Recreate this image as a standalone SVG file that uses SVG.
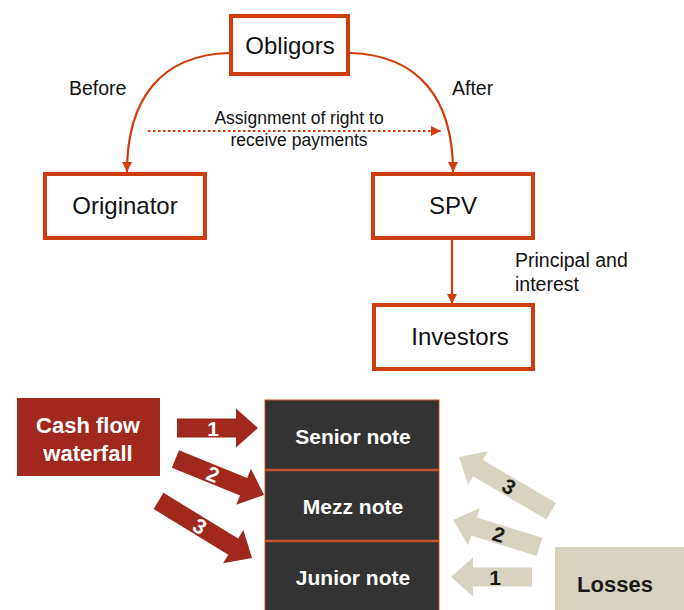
<svg xmlns="http://www.w3.org/2000/svg" width="684" height="610" viewBox="0 0 684 610">
<defs>
<style>
.box{fill:#fff;stroke:#cf3d0c;stroke-width:4}
.lbl{font-family:"Liberation Sans",Arial,sans-serif;fill:#111}
.big{font-size:24px;text-anchor:middle}
.mid{font-size:19.5px}
.sm{font-size:17.5px;text-anchor:middle}
.conn{fill:none;stroke:#cf3d0c;stroke-width:2.2}
.bold{font-family:"Liberation Sans",Arial,sans-serif;font-weight:bold;text-anchor:middle}
.red{fill:#a0281d}
.beige{fill:#d8d3c1}
.wn{fill:#fff;font-size:21px}
.bn{fill:#1a1a1a;font-size:21px}
</style>
<marker id="ah" viewBox="0 0 10 10" refX="10" refY="5" markerWidth="10" markerHeight="10" markerUnits="userSpaceOnUse" orient="auto">
<path d="M0,0 L10,5 L0,10 z" fill="#cf3d0c"/>
</marker>
</defs>
<rect width="684" height="610" fill="#fff"/>

<g id="connectors">
<path class="conn" d="M229,53 C160,55 127,100 127,172" marker-end="url(#ah)"/>
<path class="conn" d="M350,53 C420,55 453,100 453,172" marker-end="url(#ah)"/>
<path class="conn" d="M148,131 L441,131" stroke-width="3" stroke-dasharray="2.5,2.5" marker-end="url(#ah)"/>
<path class="conn" d="M452,240 L452,304" marker-end="url(#ah)"/>
</g>

<g id="labels">
<text class="lbl mid" x="69" y="95">Before</text>
<text class="lbl mid" x="452" y="95">After</text>
<text class="lbl sm" x="299" y="124">Assignment of right to</text>
<text class="lbl sm" x="299" y="146">receive payments</text>
<text class="lbl mid" x="515" y="267">Principal and</text>
<text class="lbl mid" x="515" y="291">interest</text>
</g>

<g id="obligors">
<rect class="box" x="231" y="16" width="117" height="58"/>
<text class="lbl big" x="290" y="54">Obligors</text>
</g>
<g id="originator">
<rect class="box" x="45" y="174" width="160" height="64"/>
<text class="lbl big" x="125" y="214">Originator</text>
</g>
<g id="spv">
<rect class="box" x="373" y="174" width="160" height="64"/>
<text class="lbl big" x="453" y="214">SPV</text>
</g>
<g id="investors">
<rect class="box" x="374" y="305" width="159" height="64"/>
<text class="lbl big" x="460" y="345">Investors</text>
</g>

<g id="cashflow">
<rect class="red" x="17" y="398" width="143" height="78"/>
<text class="bold" x="88" y="433" fill="#fff" font-size="22">Cash flow</text>
<text class="bold" x="88" y="461" fill="#fff" font-size="22">waterfall</text>
</g>

<g id="notes">
<rect x="265" y="400" width="174" height="212" fill="#333" stroke="#c2522c" stroke-width="1"/>
<line x1="265" y1="470" x2="439" y2="470" stroke="#c2522c" stroke-width="2.5"/>
<line x1="265" y1="541" x2="439" y2="541" stroke="#c2522c" stroke-width="2.5"/>
<text class="bold" x="353" y="444" fill="#fff" font-size="21">Senior note</text>
<text class="bold" x="353" y="514" fill="#fff" font-size="21">Mezz note</text>
<text class="bold" x="353" y="585" fill="#fff" font-size="21">Junior note</text>
</g>

<g id="losses">
<rect class="beige" x="555" y="547" width="132" height="66"/>
<text class="bold" x="615" y="592" fill="#1a1a1a" font-size="22">Losses</text>
</g>

<g id="waterfall-arrows">
<g transform="translate(258,428)">
<polygon class="red" points="-81,-9.5 -22,-9.5 -22,-19.5 0,0 -22,19.5 -22,9.5 -81,9.5"/>
<text class="bold wn" x="-45" y="7.5">1</text>
</g>
<g transform="translate(264,495) rotate(22.1)">
<polygon class="red" points="-95.6,-9.5 -22,-9.5 -22,-19.5 0,0 -22,19.5 -22,9.5 -95.6,9.5"/>
<text class="bold wn" x="-55" y="7.5">2</text>
</g>
<g transform="translate(252,558) rotate(31.4)">
<polygon class="red" points="-109.5,-9.5 -22,-9.5 -22,-19.5 0,0 -22,19.5 -22,9.5 -109.5,9.5"/>
<text class="bold wn" x="-61" y="7.5">3</text>
</g>
</g>

<g id="loss-arrows">
<g transform="translate(451,577)">
<polygon class="beige" points="81,-9.5 22,-9.5 22,-19.5 0,0 22,19.5 22,9.5 81,9.5"/>
<text class="bold bn" x="44" y="7.5">1</text>
</g>
<g transform="translate(453,520) rotate(17.3)">
<polygon class="beige" points="90.6,-9.5 22,-9.5 22,-19.5 0,0 22,19.5 22,9.5 90.6,9.5"/>
<text class="bold bn" x="48" y="7.5">2</text>
</g>
<g transform="translate(459,457) rotate(30.5)">
<polygon class="beige" points="107,-9.5 22,-9.5 22,-19.5 0,0 22,19.5 22,9.5 107,9.5"/>
<text class="bold bn" x="58" y="7.5">3</text>
</g>
</g>
</svg>
